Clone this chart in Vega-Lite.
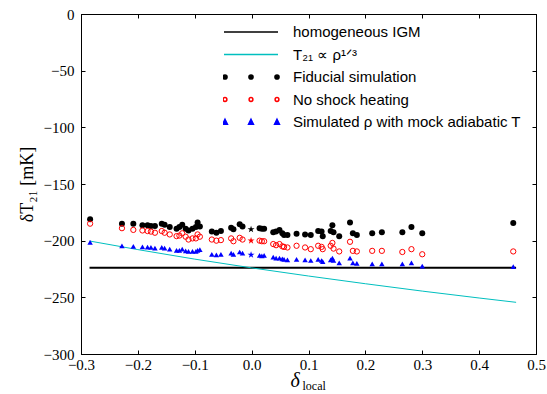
{
  "$schema": "https://vega.github.io/schema/vega-lite/v6.json",
  "width": 455,
  "height": 340,
  "autosize": {"type": "none"},
  "padding": {"left": 81, "top": 14, "right": 11, "bottom": 40},
  "background": "white",
  "config": {
    "view": {"stroke": "black", "strokeWidth": 1},
    "axis": {
      "grid": false,
      "domainColor": "black",
      "tickColor": "black",
      "labelColor": "black",
      "titleColor": "black",
      "labelFont": "Liberation Serif",
      "labelFontSize": 15,
      "titleFont": "Liberation Serif",
      "titleFontWeight": "normal",
      "tickSize": -4,
      "labelFlush": false,
      "labelOverlap": false
    },
    "legend": {
      "labelFont": "Liberation Sans",
      "labelFontSize": 15,
      "labelColor": "black",
      "labelLimit": 0,
      "padding": 0,
      "symbolSize": 2916,
      "clipHeight": 20,
      "rowPadding": 2.5,
      "labelOffset": 14,
      "symbolStrokeWidth": 1.5
    }
  },
  "datasets": {
    "pts": [
      {"d": -0.284, "fid": -181, "nosh": -185, "mock": -201.5},
      {"d": -0.228, "fid": -185, "nosh": -189, "mock": -204.5},
      {"d": -0.208, "fid": -185, "nosh": -190.5, "mock": -205},
      {"d": -0.192, "fid": -186.5, "nosh": -191, "mock": -205.5},
      {"d": -0.183, "fid": -186.5, "nosh": -191.5, "mock": -205.8},
      {"d": -0.177, "fid": -187, "nosh": -192, "mock": -206},
      {"d": -0.170, "fid": -187, "nosh": -193, "mock": -206.5},
      {"d": -0.158, "fid": -185, "nosh": -191.5, "mock": -206},
      {"d": -0.153, "fid": -186, "nosh": -193, "mock": -206.5},
      {"d": -0.144, "fid": -188, "nosh": -194.5, "mock": -207.5},
      {"d": -0.132, "fid": -189.5, "nosh": -196, "mock": -208.5},
      {"d": -0.127, "fid": -188, "nosh": -195.5, "mock": -208.5},
      {"d": -0.122, "fid": -186, "nosh": -193.5, "mock": -207.5},
      {"d": -0.116, "fid": -189.5, "nosh": -196.5, "mock": -209},
      {"d": -0.111, "fid": -191, "nosh": -199, "mock": -209.5},
      {"d": -0.104, "fid": -189.5, "nosh": -198, "mock": -209.5},
      {"d": -0.098, "fid": -188, "nosh": -198, "mock": -209.5},
      {"d": -0.095, "fid": -184, "nosh": -194.5, "mock": -208.5},
      {"d": -0.091, "fid": -187.5, "nosh": -196.5, "mock": -208},
      {"d": -0.070, "fid": -192, "nosh": -199, "mock": -212},
      {"d": -0.062, "fid": -193, "nosh": -200, "mock": -212.5},
      {"d": -0.054, "fid": -191.5, "nosh": -199.5, "mock": -212},
      {"d": -0.036, "fid": -188.5, "nosh": -198, "mock": -211},
      {"d": -0.032, "fid": -190, "nosh": -200.5, "mock": -212},
      {"d": -0.021, "fid": -185.5, "nosh": -197.5, "mock": -210},
      {"d": -0.016, "fid": -187.5, "nosh": -199, "mock": -211},
      {"d": 0.014, "fid": -189, "nosh": -200, "mock": -213},
      {"d": 0.018, "fid": -189.5, "nosh": -200.5, "mock": -213.5},
      {"d": 0.022, "fid": -189.5, "nosh": -200.5, "mock": -213},
      {"d": 0.038, "fid": -192.5, "nosh": -203, "mock": -214.5},
      {"d": 0.043, "fid": -192, "nosh": -204, "mock": -215.5},
      {"d": 0.049, "fid": -190.5, "nosh": -203, "mock": -215.5},
      {"d": 0.054, "fid": -193.5, "nosh": -205, "mock": -216},
      {"d": 0.057, "fid": -195, "nosh": -205.5, "mock": -216.5},
      {"d": 0.063, "fid": -195, "nosh": -206, "mock": -217},
      {"d": 0.079, "fid": -194, "nosh": -204.5, "mock": -216.5},
      {"d": 0.094, "fid": -194.5, "nosh": -206, "mock": -217},
      {"d": 0.104, "fid": -195, "nosh": -207.5, "mock": -217.5},
      {"d": 0.117, "fid": -191.5, "nosh": -204.5, "mock": -216.5},
      {"d": 0.123, "fid": -192, "nosh": -205.5, "mock": -217.5},
      {"d": 0.125, "fid": -196, "nosh": -207.5, "mock": -218.5},
      {"d": 0.139, "fid": -191.5, "nosh": -204.5, "mock": -217},
      {"d": 0.142, "fid": -186.5, "nosh": -202, "mock": -215.5},
      {"d": 0.144, "fid": -192.5, "nosh": -207, "mock": -217.5},
      {"d": 0.154, "fid": -196, "nosh": -209.5, "mock": -219.5},
      {"d": 0.173, "fid": -184, "nosh": -201, "mock": -215.5},
      {"d": 0.178, "fid": -193.5, "nosh": -209, "mock": -219.5},
      {"d": 0.185, "fid": -195, "nosh": -209.5, "mock": -220},
      {"d": 0.212, "fid": -193.5, "nosh": -209, "mock": -220.5},
      {"d": 0.229, "fid": -192.5, "nosh": -209, "mock": -220.5},
      {"d": 0.265, "fid": -192.5, "nosh": -210, "mock": -220.5},
      {"d": 0.281, "fid": -188, "nosh": -207.5, "mock": -219.5},
      {"d": 0.300, "fid": -193.5, "nosh": -212, "mock": -222.5},
      {"d": 0.460, "fid": -184.5, "nosh": -209.5, "mock": -223}
    ],
    "stars": [
      {"d": -0.001, "T": -190, "key": "fid"},
      {"d": -0.001, "T": -200, "key": "nosh"},
      {"d": -0.001, "T": -212.5, "key": "mock"}
    ]
  },
  "layer": [
    {
      "data": {"values": [{"d": -0.285, "T": -224}, {"d": 0.465, "T": -224}]},
      "mark": {"type": "line", "color": "black", "strokeWidth": 2},
      "encoding": {
        "x": {
          "field": "d", "type": "quantitative",
          "scale": {"domain": [-0.3, 0.5], "nice": false, "zero": false},
          "axis": {
            "orient": "bottom",
            "values": [-0.3, -0.2, -0.1, 0, 0.1, 0.2, 0.3, 0.4, 0.5],
            "format": ".1f",
            "labelPadding": 7,
            "title": "δ",
            "titleFontSize": 20,
            "titleFontStyle": "italic",
            "titleX": 209,
            "titleY": 32,
            "titleAlign": "left",
            "titleAnchor": "start",
            "titleBaseline": "alphabetic"
          }
        },
        "y": {
          "field": "T", "type": "quantitative",
          "scale": {"domain": [-300, 0], "nice": false, "zero": false},
          "axis": {
            "orient": "left",
            "values": [-300, -250, -200, -150, -100, -50, 0],
            "labelPadding": 11,
            "title": "δT₂₁ [mK]",
            "titleFontSize": 18,
            "titleAngle": 270,
            "titleX": -54,
            "titleY": 170,
            "titleAlign": "center",
            "titleBaseline": "middle"
          }
        }
      }
    },
    {
      "data": {"values": [
        {"d": -0.285, "T": -200.3},
        {"d": -0.2, "T": -207.9},
        {"d": -0.1, "T": -216.3},
        {"d": 0.0, "T": -224},
        {"d": 0.1, "T": -231.2},
        {"d": 0.2, "T": -238.0},
        {"d": 0.3, "T": -244.5},
        {"d": 0.4, "T": -250.6},
        {"d": 0.465, "T": -254.4}
      ]},
      "mark": {"type": "line", "color": "#00bfbf", "strokeWidth": 1},
      "encoding": {
        "x": {
          "field": "d", "type": "quantitative",
          "scale": {"domain": [-0.3, 0.5], "nice": false, "zero": false},
          "axis": {
            "orient": "top",
            "values": [-0.3, -0.2, -0.1, 0, 0.1, 0.2, 0.3, 0.4, 0.5],
            "labels": false,
            "title": "local",
            "titleFontSize": 12,
            "titleX": 221,
            "titleY": 375,
            "titleAngle": 0,
            "titleAlign": "left",
            "titleAnchor": "start",
            "titleBaseline": "alphabetic"
          }
        },
        "y": {
          "field": "T", "type": "quantitative",
          "scale": {"domain": [-300, 0], "nice": false, "zero": false},
          "axis": {
            "orient": "right",
            "values": [-300, -250, -200, -150, -100, -50, 0],
            "labels": false,
            "title": null
          }
        }
      }
    },
    {
      "data": {"name": "pts"},
      "mark": {"type": "point", "shape": "circle", "filled": true, "color": "black", "size": 36, "opacity": 1},
      "encoding": {
        "x": {"field": "d", "type": "quantitative", "scale": {"domain": [-0.3, 0.5], "nice": false, "zero": false}, "axis": null},
        "y": {"field": "fid", "type": "quantitative", "scale": {"domain": [-300, 0], "nice": false, "zero": false}, "axis": null}
      }
    },
    {
      "data": {"name": "pts"},
      "mark": {"type": "point", "shape": "circle", "filled": false, "color": "red", "strokeWidth": 1, "size": 28, "opacity": 1},
      "encoding": {
        "x": {"field": "d", "type": "quantitative", "scale": {"domain": [-0.3, 0.5], "nice": false, "zero": false}, "axis": null},
        "y": {"field": "nosh", "type": "quantitative", "scale": {"domain": [-300, 0], "nice": false, "zero": false}, "axis": null}
      }
    },
    {
      "data": {"name": "pts"},
      "mark": {"type": "point", "shape": "triangle-up", "filled": true, "color": "blue", "size": 30, "opacity": 1},
      "encoding": {
        "x": {"field": "d", "type": "quantitative", "scale": {"domain": [-0.3, 0.5], "nice": false, "zero": false}, "axis": null},
        "y": {"field": "mock", "type": "quantitative", "scale": {"domain": [-300, 0], "nice": false, "zero": false}, "axis": null}
      }
    },
    {
      "data": {"name": "stars"},
      "mark": {"type": "point", "shape": "M0,-1L0.2245,-0.309L0.951,-0.309L0.363,0.118L0.588,0.809L0,0.382L-0.588,0.809L-0.363,0.118L-0.951,-0.309L-0.2245,-0.309Z", "filled": true, "size": 55, "opacity": 1},
      "encoding": {
        "x": {"field": "d", "type": "quantitative", "scale": {"domain": [-0.3, 0.5], "nice": false, "zero": false}, "axis": null},
        "y": {"field": "T", "type": "quantitative", "scale": {"domain": [-300, 0], "nice": false, "zero": false}, "axis": null},
        "color": {"field": "key", "type": "nominal", "scale": {"domain": ["fid", "nosh", "mock"], "range": ["black", "red", "blue"]}, "legend": null}
      }
    },
    {
      "data": {"values": []},
      "mark": {"type": "point", "opacity": 1, "strokeWidth": 1.5},
      "encoding": {
        "shape": {
          "field": "key", "type": "nominal",
          "scale": {
            "domain": ["igm", "t21", "fid", "nosh", "mock"],
            "range": [
              "M-1,0L1,0",
              "M-1,0L1,0",
              "M-1.04,0A0.077,0.077,0,1,1,-0.886,0A0.077,0.077,0,1,1,-1.04,0ZM-0.077,0A0.077,0.077,0,1,1,0.077,0A0.077,0.077,0,1,1,-0.077,0ZM0.886,0A0.077,0.077,0,1,1,1.04,0A0.077,0.077,0,1,1,0.886,0Z",
              "M-1.033,0A0.07,0.07,0,1,1,-0.893,0A0.07,0.07,0,1,1,-1.033,0ZM-0.07,0A0.07,0.07,0,1,1,0.07,0A0.07,0.07,0,1,1,-0.07,0ZM0.893,0A0.07,0.07,0,1,1,1.033,0A0.07,0.07,0,1,1,0.893,0Z",
              "M-0.963,-0.1L-0.873,0.085L-1.053,0.085ZM0,-0.1L0.09,0.085L-0.09,0.085ZM0.963,-0.1L1.053,0.085L0.873,0.085Z"
            ]
          },
          "legend": {
            "orient": "none", "legendX": 142, "legendY": 8, "title": null,
            "labelExpr": "datum.value == 'igm' ? 'homogeneous IGM' : datum.value == 't21' ? 'T₂₁ ∝ ρ¹ᐟ³' : datum.value == 'fid' ? 'Fiducial simulation' : datum.value == 'nosh' ? 'No shock heating' : 'Simulated ρ with mock adiabatic T'"
          }
        },
        "stroke": {
          "field": "key", "type": "nominal",
          "scale": {"domain": ["igm", "t21", "fid", "nosh", "mock"], "range": ["black", "#00bfbf", "black", "red", "blue"]},
          "legend": {
            "orient": "none", "legendX": 142, "legendY": 8, "title": null,
            "labelExpr": "datum.value == 'igm' ? 'homogeneous IGM' : datum.value == 't21' ? 'T₂₁ ∝ ρ¹ᐟ³' : datum.value == 'fid' ? 'Fiducial simulation' : datum.value == 'nosh' ? 'No shock heating' : 'Simulated ρ with mock adiabatic T'"
          }
        },
        "fill": {
          "field": "key", "type": "nominal",
          "scale": {"domain": ["igm", "t21", "fid", "nosh", "mock"], "range": ["transparent", "transparent", "black", "transparent", "blue"]},
          "legend": {
            "orient": "none", "legendX": 142, "legendY": 8, "title": null,
            "labelExpr": "datum.value == 'igm' ? 'homogeneous IGM' : datum.value == 't21' ? 'T₂₁ ∝ ρ¹ᐟ³' : datum.value == 'fid' ? 'Fiducial simulation' : datum.value == 'nosh' ? 'No shock heating' : 'Simulated ρ with mock adiabatic T'"
          }
        }
      }
    }
  ],
  "resolve": {"axis": {"x": "independent", "y": "independent"}}
}
